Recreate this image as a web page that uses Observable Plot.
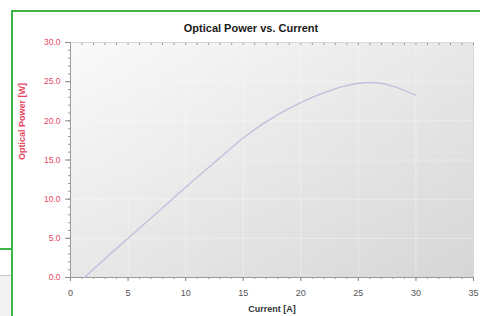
<!DOCTYPE html>
<html>
<head>
<meta charset="utf-8">
<script src="https://cdn.jsdelivr.net/npm/d3@7"></script>
<script src="https://cdn.jsdelivr.net/npm/@observablehq/plot@0.6"></script>
<style>
  html, body { margin: 0; padding: 0; background: #fff; }
  #wrap { position: relative; width: 480px; height: 316px; overflow: hidden; background: #fff; font-family: "Liberation Sans", Arial, sans-serif; }
  #wrap svg { position: absolute; left: 0; top: 0; }
  .ln { position: absolute; }
</style>
</head>
<body>
<div id="wrap">
  <div class="ln" style="left:0;top:276px;width:12px;height:40px;background:#f2f2f2;"></div>
  <div class="ln" style="left:0;top:275px;width:12px;height:1px;background:#c8c8c8;"></div>
  <div class="ln" style="left:0;top:248px;width:12px;height:2px;background:#3fb548;"></div>
  <div class="ln" style="left:12px;top:10px;width:468px;height:2px;background:#3fb548;"></div>
  <div class="ln" style="left:11px;top:10px;width:2px;height:306px;background:#3fb548;"></div>
</div>
<script>
// Data
const current = [1.2, 3, 5, 7, 9, 11, 13, 15, 17, 19, 21, 23, 24, 25, 26, 27, 28, 29, 30];
const power   = [0, 2.4, 5.0, 7.6, 10.2, 12.8, 15.3, 17.8, 19.9, 21.6, 23.0, 24.1, 24.5, 24.8, 24.9, 24.8, 24.4, 23.9, 23.3];
const xTicks = [0, 5, 10, 15, 20, 25, 30, 35];
const yTicks = [0, 5, 10, 15, 20, 25, 30];
const xMinor = d3.range(0, 36, 1);
const yMinor = d3.range(0, 31, 1);
const title = "Optical Power vs. Current";
const xLabel = "Current [A]";
const yLabel = "Optical Power [W]";

const data = current.map((c, i) => ({current: c, power: power[i]}));

const chart = Plot.plot({
  width: 480,
  height: 316,
  marginLeft: 70,
  marginRight: 7,
  marginTop: 42,
  marginBottom: 39,
  style: {background: "transparent", fontFamily: "Liberation Sans, Arial, sans-serif"},
  x: {domain: [0, 35]},
  y: {domain: [0, 30]},
  marks: [
    Plot.frame({fill: "#e6e6e6", stroke: "#c4c4c4"}),
    Plot.gridX(xTicks, {stroke: "#fff", strokeOpacity: 0.35}),
    Plot.gridY(yTicks, {stroke: "#fff", strokeOpacity: 0.35}),
    Plot.axisY(yMinor, {tickSize: 2, tickFormat: () => "", stroke: "#999", label: null}),
    Plot.axisY(yTicks, {tickSize: 5, tickPadding: 5, tickFormat: d3.format(".1f"), fill: "#e8475f", stroke: "#888", fontSize: 8.5, label: null}),
    Plot.axisX(xMinor, {tickSize: 2, tickFormat: () => "", stroke: "#999", label: null}),
    Plot.axisX(xMinor, {anchor: "top", tickSize: -2, tickFormat: () => "", stroke: "#999", label: null}),
    Plot.axisX(xTicks, {tickSize: 4, tickPadding: 8, fill: "#555", stroke: "#888", fontSize: 9, label: null}),
    Plot.ruleY([0], {stroke: "#9a9a9a"}),
    Plot.ruleX([0], {stroke: "#9a9a9a"}),
    Plot.line(data, {x: "current", y: "power", stroke: "#bfc2dc", strokeWidth: 1.4, curve: "catmull-rom"}),
    Plot.text([title], {frameAnchor: "top", dy: -18, dx: -21, fontSize: 11, fontWeight: "bold", fill: "#1a1a1a"}),
    Plot.text([xLabel], {frameAnchor: "bottom", dy: 34, fontSize: 9, fontWeight: "bold", fill: "#333"}),
    Plot.text([yLabel], {frameAnchor: "left", dx: -48, rotate: -90, fontSize: 9, fontWeight: "bold", fill: "#e8475f"})
  ]
});

// gradient background for the plot frame
const svg = d3.select(chart);
const defs = svg.insert("defs", ":first-child");
const g = defs.append("linearGradient").attr("id", "bggrad").attr("x1", "0").attr("y1", "0").attr("x2", "1").attr("y2", "1");
g.append("stop").attr("offset", "0%").attr("stop-color", "#fafafa");
g.append("stop").attr("offset", "100%").attr("stop-color", "#d6d6d6");
svg.select('g[aria-label="frame"] rect, rect[aria-label="frame"]').attr("fill", "url(#bggrad)");

document.getElementById("wrap").prepend(chart);
</script>
</body>
</html>
